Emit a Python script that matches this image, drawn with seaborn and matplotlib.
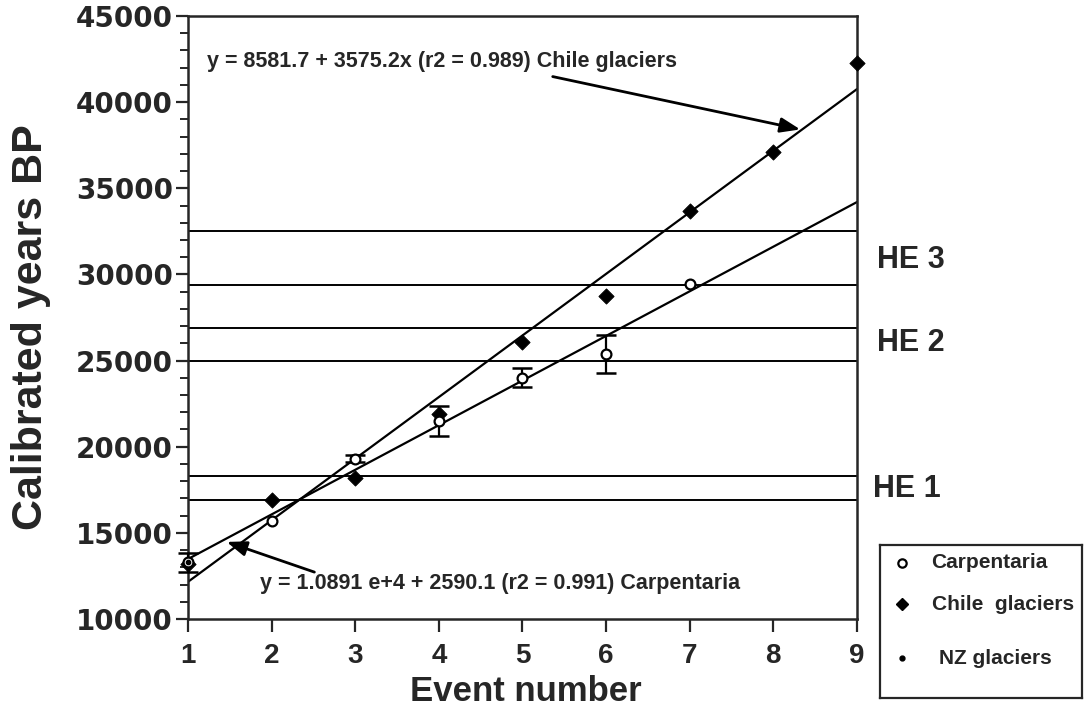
import numpy as np
import matplotlib
matplotlib.use("Agg")
import matplotlib.pyplot as plt
import seaborn as sns
import pandas as pd

# ---------------- DATA ----------------
carp_event = [1, 2, 3, 4, 5, 6, 7]
carp_years = [13300, 15700, 19300, 21500, 24000, 25400, 29450]
carp_err = [550, 0, 200, 850, 550, 1100, 0]

chile_event = [1, 2, 3, 4, 5, 6, 7, 8, 9]
chile_years = [13200, 16900, 18200, 21900, 26100, 28750, 33700, 37100, 42250]

nz_event = [1]
nz_years = [13300]

# regression fits (intercept, slope)
chile_fit = (8581.7, 3575.2)
carp_fit = (10891.0, 2590.1)

# Heinrich event bands (lower, upper)
he_bands = [(16900, 18300), (25000, 26900), (29400, 32500)]
he_labels = ["HE 1", "HE 2", "HE 3"]
he_label_y = [17550, 26000, 30850]

# ---------------- STYLE ----------------
sns.set_style("ticks")
plt.rcParams["font.family"] = ["Liberation Sans", "DejaVu Sans"]
plt.rcParams["font.weight"] = "bold"

fig = plt.figure(figsize=(10.89, 7.15), dpi=100)
ax = fig.add_axes([188/1089, 1-619/715, (857-188)/1089, (619-16)/715])

# HE lines
for lo, hi in he_bands:
    for v in (lo, hi):
        ax.axhline(v, color="black", lw=1.4, zorder=1)

# fit lines
xs = np.array([1.0, 9.0])
fits = pd.DataFrame({
    "x": np.concatenate([xs, xs]),
    "y": np.concatenate([chile_fit[0] + chile_fit[1]*xs, carp_fit[0] + carp_fit[1]*xs]),
    "fit": ["chile"]*2 + ["carp"]*2,
})
sns.lineplot(data=fits, x="x", y="y", units="fit", estimator=None, color="black",
             lw=1.6, ax=ax, zorder=2)

# points
carp_df = pd.DataFrame({"x": carp_event, "y": carp_years, "err": carp_err})
eb = carp_df[carp_df["err"] > 0]
ax.errorbar(eb["x"], eb["y"], yerr=eb["err"], fmt="none", ecolor="black",
            elinewidth=1.6, capsize=7, capthick=1.8, zorder=3, clip_on=False)
chile_df = pd.DataFrame({"x": chile_event, "y": chile_years})
nz_df = pd.DataFrame({"x": nz_event, "y": nz_years})
sns.scatterplot(data=chile_df, x="x", y="y", marker="D", s=60, color="black",
                edgecolor="black", ax=ax, zorder=4, clip_on=False)
sns.scatterplot(data=carp_df, x="x", y="y", marker="o", s=50, facecolor="white",
                edgecolor="black", linewidth=1.6, ax=ax, zorder=5, clip_on=False)
sns.scatterplot(data=nz_df, x="x", y="y", marker="o", s=20, color="black",
                ax=ax, zorder=6, clip_on=False)

ax.set_xlim(1, 9)
ax.set_ylim(10000, 45000)
ax.set_xticks(range(1, 10))
ax.set_yticks(range(10000, 45001, 5000))
ax.set_yticks(range(10000, 45001, 1000), minor=True)
for s in ax.spines.values():
    s.set_linewidth(1.8)
ax.tick_params(axis="both", which="major", length=9, width=1.6, direction="out", pad=2)
ax.tick_params(axis="x", which="major", pad=8)
ax.tick_params(axis="y", which="minor", length=6, width=1.4)
for lab in ax.get_xticklabels():
    lab.set_fontsize(20)
    lab.set_fontweight("bold")
for lab in ax.get_yticklabels():
    lab.set_fontsize(20)
    lab.set_fontweight("bold")
    lab.set_family(["DejaVu Sans"])

ax.set_xlabel("Event number", fontsize=25, fontweight="bold", va="center")
ax.set_ylabel("Calibrated years BP", fontsize=31, fontweight="bold")
ax.xaxis.set_label_coords(0.505, -0.12)
ax.yaxis.set_label_coords(-0.205, 0.484)

# annotations
ax.annotate("y = 8581.7 + 3575.2x (r2 = 0.989) Chile glaciers",
            xy=(207/1089, 1-62/715), xycoords="figure fraction",
            fontsize=15.5, fontweight="bold", ha="left", va="center")
ax.annotate("", xy=(803/1089, 1-130/715), xycoords="figure fraction",
            xytext=(550/1089, 1-76/715), textcoords="figure fraction",
            arrowprops=dict(arrowstyle="-|>,head_length=1.2,head_width=0.45",
                            color="black", lw=2))
ax.annotate("y = 1.0891 e+4 + 2590.1 (r2 = 0.991) Carpentaria",
            xy=(260/1089, 1-583/715), xycoords="figure fraction",
            fontsize=15.5, fontweight="bold", ha="left", va="center")
ax.annotate("", xy=(224/1089, 1-541/715), xycoords="figure fraction",
            xytext=(317/1089, 1-573/715), textcoords="figure fraction",
            arrowprops=dict(arrowstyle="-|>,head_length=1.2,head_width=0.45",
                            color="black", lw=2))

# HE labels
for lab, yv in zip(he_labels, he_label_y):
    ax.text(1.03 if lab != "HE 1" else 1.024, yv, lab, transform=ax.get_yaxis_transform(),
            fontsize=22, fontweight="bold", ha="left", va="center")

# legend box
leg = fig.add_axes([880/1089, 1-698/715, (1082-880)/1089, (698-545)/715])
leg.set_xlim(0, 1)
leg.set_ylim(0, 1)
leg.set_xticks([])
leg.set_yticks([])
for s in leg.spines.values():
    s.set_linewidth(1.6)
leg_y = [(698-563)/153, (698-604)/153, (698-658)/153]
leg.plot([0.107], [leg_y[0]], "o", ms=6, mfc="white", mec="black", mew=1.6)
leg.plot([0.107], [leg_y[1]], "D", ms=6.5, color="black")
leg.plot([0.107], [leg_y[2]], "o", ms=3.5, color="black")
leg.text(0.255, leg_y[0], "Carpentaria", fontsize=15, fontweight="bold", va="center")
leg.text(0.255, leg_y[1], "Chile  glaciers", fontsize=15, fontweight="bold", va="center")
leg.text(0.29, leg_y[2], "NZ glaciers", fontsize=15, fontweight="bold", va="center")

fig.savefig("out.png", dpi=100)
